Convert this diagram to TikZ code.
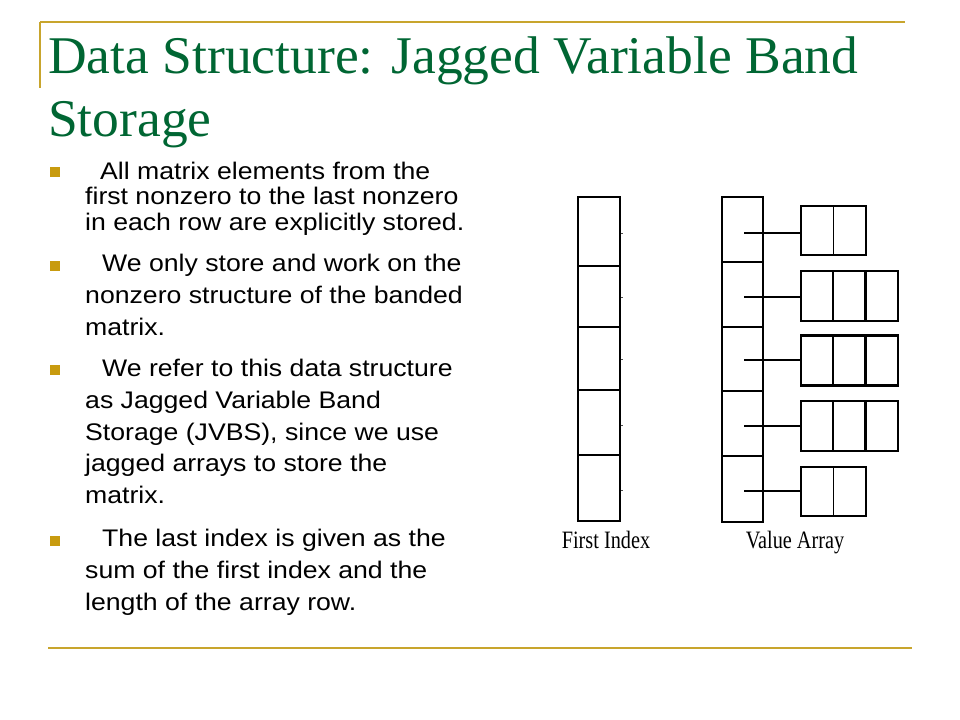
\documentclass[tikz,border=0pt]{standalone}
\usepackage{fontspec}
\setmainfont{Liberation Serif}
\newfontfamily\bodyfont{Liberation Sans}
\newfontfamily\titlefont{Liberation Serif}
\definecolor{titlegreen}{RGB}{0,102,51}
\definecolor{rulegold}{RGB}{200,165,45}
\definecolor{bulletgold}{RGB}{200,155,15}
\newcommand{\bodytxt}[1]{\scalebox{1.11}[1]{#1}}
\newcommand{\ttltxt}[1]{\scalebox{1.01}[1]{#1}}
\newcommand{\labtxt}[1]{\scalebox{0.81}[1]{#1}}
\begin{document}
\begin{tikzpicture}[x=1bp,y=-1bp,
  body/.style={anchor=base west,inner sep=0pt,font=\bodyfont\fontsize{24bp}{28bp}\selectfont},
  ttl/.style={anchor=base west,inner sep=0pt,text=titlegreen,font=\titlefont\fontsize{53bp}{60bp}\selectfont},
  lab/.style={anchor=base,inner sep=0pt,font=\fontsize{25bp}{28bp}\selectfont},
  bul/.style={fill=bulletgold,draw=none,minimum size=9.5bp,inner sep=0pt},
  rule/.style={draw=rulegold,line width=2bp},
  cellA/.style={draw=black,line width=1.3bp,minimum width=42bp,inner sep=0pt},
  cellB/.style={draw=black,line width=1.3bp,minimum width=41bp,inner sep=0pt},
  vcell/.style={draw=black,line width=1.6bp,minimum width=32.5bp,minimum height=49bp,inner sep=0pt,outer sep=0pt},
  vcellthick/.style={draw=black,line width=2.3bp,minimum width=32.3bp,minimum height=50bp,inner sep=0pt,outer sep=0pt},
  ptr/.style={draw=black,line width=1.3bp},
  tick/.style={draw=black!70,line width=0.8bp}]
\useasboundingbox[fill=white] (0,0) rectangle (960,720);

% frame rules
\coordinate (r1a) at (40,22); \coordinate (r1b) at (905,22);
\coordinate (r2b) at (40,88);
\coordinate (r3a) at (48,648); \coordinate (r3b) at (912,648);
\draw[rule] (r1a) -- (r1b);
\draw[rule] (r1a) -- (r2b);
\draw[rule] (r3a) -- (r3b);

% title
\node[ttl] (t1) at (48,74) {\ttltxt{Data Structure: Jagged Variable Band}};
\node[ttl] (t2) at (48,137) {\ttltxt{Storage}};

% bullets
\node[bul] (b1) at (55,172) {};
\node[bul] (b2) at (55,266) {};
\node[bul] (b3) at (55,370) {};
\node[bul] (b4) at (55,541) {};

\node[body] (l11) at (100,179.3) {\bodytxt{All matrix elements from the}};
\node[body] (l12) at (85,204.3) {\bodytxt{first nonzero to the last nonzero}};
\node[body] (l13) at (85,230) {\bodytxt{in each row are explicitly stored.}};

\node[body] (l21) at (102,271.7) {\bodytxt{We only store and work on the}};
\node[body] (l22) at (85,303.3) {\bodytxt{nonzero structure of the banded}};
\node[body] (l23) at (85,335) {\bodytxt{matrix.}};

\node[body] (l31) at (102,376.7) {\bodytxt{We refer to this data structure}};
\node[body] (l32) at (85,408.3) {\bodytxt{as Jagged Variable Band}};
\node[body] (l33) at (85,440) {\bodytxt{Storage (JVBS), since we use}};
\node[body] (l34) at (85,471.7) {\bodytxt{jagged arrays to store the}};
\node[body] (l35) at (85,503.3) {\bodytxt{matrix.}};

\node[body] (l41) at (102,546.7) {\bodytxt{The last index is given as the}};
\node[body] (l42) at (85,578.3) {\bodytxt{sum of the first index and the}};
\node[body] (l43) at (85,610) {\bodytxt{length of the array row.}};

% First Index column
\node[cellA,minimum height=69bp] (f1) at (599,231.5) {};
\node[cellA,minimum height=61bp] (f2) at (599,296.5) {};
\node[cellA,minimum height=63bp] (f3) at (599,358.5) {};
\node[cellA,minimum height=65bp] (f4) at (599,422.5) {};
\node[cellA,minimum height=66bp] (f5) at (599,488) {};
\foreach \i/\y in {1/233,2/297,3/359,4/425,5/490}{
  \coordinate (fk\i) at (623,\y);
  \draw[tick] (f\i.east |- fk\i) -- (fk\i);
}

% Value Array column
\node[cellB,minimum height=65bp] (v1) at (742.5,229.5) {};
\node[cellB,minimum height=65bp] (v2) at (742.5,294.5) {};
\node[cellB,minimum height=64bp] (v3) at (742.5,359) {};
\node[cellB,minimum height=65bp] (v4) at (742.5,423.5) {};
\node[cellB,minimum height=66bp] (v5) at (742.5,489) {};

% row arrays
\node[vcell,anchor=north west] (a1a) at (801,206) {};
\node[vcell,anchor=north west] (a1b) at (a1a.north east) {};

\node[vcellthick,anchor=north west] (a2a) at (801,271) {};
\node[vcellthick,anchor=north west] (a2b) at (a2a.north east) {};
\node[vcellthick,anchor=north west] (a2c) at (a2b.north east) {};

\node[vcellthick,anchor=north west] (a3a) at (801,335.5) {};
\node[vcellthick,anchor=north west] (a3b) at (a3a.north east) {};
\node[vcellthick,anchor=north west] (a3c) at (a3b.north east) {};

\node[vcellthick,anchor=north west] (a4a) at (801,401) {};
\node[vcellthick,anchor=north west] (a4b) at (a4a.north east) {};
\node[vcellthick,anchor=north west] (a4c) at (a4b.north east) {};

\node[vcell,anchor=north west] (a5a) at (801,467) {};
\node[vcell,anchor=north west] (a5b) at (a5a.north east) {};

% pointers
\coordinate (p1) at (744,233);
\coordinate (p2) at (744,297);
\coordinate (p3) at (744,360);
\coordinate (p4) at (744,426);
\coordinate (p5) at (744,491);
\draw[ptr] (p1) -- (p1 -| a1a.west);
\draw[ptr,line width=2bp] (p2) -- (p2 -| a2a.west);
\draw[ptr] (p3) -- (p3 -| a3a.west);
\draw[ptr,line width=1.8bp] (p4) -- (p4 -| a4a.west);
\draw[ptr] (p5) -- (p5 -| a5a.west);

% labels
\node[lab] (fl) at (606,548) {\labtxt{First Index}};
\node[lab] (vl) at (795,548) {\labtxt{Value Array}};
\end{tikzpicture}
\end{document}
